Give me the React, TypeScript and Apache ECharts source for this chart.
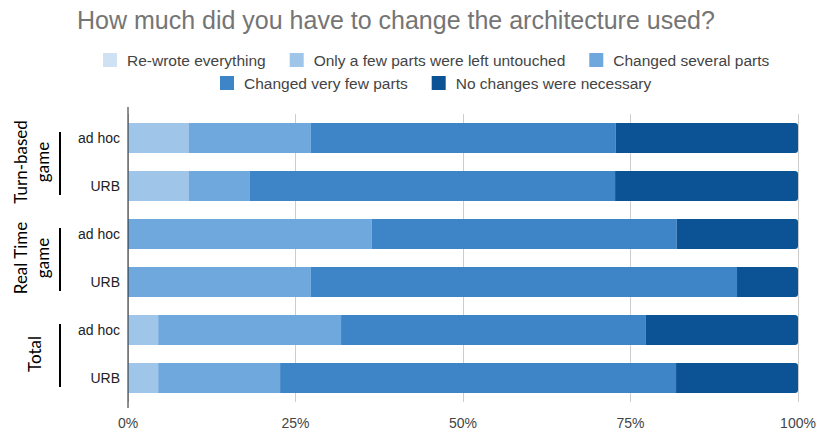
import React, { useEffect, useRef } from "react";
import * as echarts from "echarts";

const categories = ["ad hoc", "URB", "ad hoc", "URB", "ad hoc", "URB"];
const groups = [
  { label: ["Turn-based", "game"], from: 0, to: 1 },
  { label: ["Real Time", "game"], from: 2, to: 3 },
  { label: ["Total"], from: 4, to: 5 },
];
const seriesNames = [
  "Re-wrote everything",
  "Only a few parts were left untouched",
  "Changed several parts",
  "Changed very few parts",
  "No changes were necessary",
];
const colors = ["#cfe2f3", "#9fc5e8", "#6fa8dc", "#3d85c6", "#0b5394"];
const rewrote = [0, 0, 0, 0, 0, 0];
const fewLeft = [9.1, 9.1, 0, 0, 4.5, 4.5];
const several = [18.2, 9.1, 36.4, 27.3, 27.3, 18.2];
const veryFew = [45.5, 54.5, 45.5, 63.6, 45.5, 59.1];
const noChanges = [27.3, 27.3, 18.2, 9.1, 22.7, 18.2];
const values = [rewrote, fewLeft, several, veryFew, noChanges];
const xTicks = [0, 25, 50, 75, 100];

const FONT = "Liberation Sans, Arial, sans-serif";

export default function App() {
  const ref = useRef<HTMLDivElement>(null);
  useEffect(() => {
    document.body.style.margin = "0";
    const chart = echarts.init(ref.current!, null, { renderer: "svg" });
    const legendCommon = {
      itemWidth: 14,
      itemHeight: 14,
      itemGap: 24,
      icon: "rect",
      textStyle: {
        fontFamily: FONT,
        fontSize: 15.5,
        color: "#444444",
        padding: [0, 0, 0, 5],
      },
    };
    const option: any = {
      animation: false,
      backgroundColor: "#ffffff",
      title: {
        text: "How much did you have to change the architecture used?",
        left: 72,
        top: 2,
        textStyle: {
          fontFamily: FONT,
          fontSize: 25,
          fontWeight: "normal",
          color: "#757575",
        },
      },
      legend: [
        { ...legendCommon, top: 47, left: 98, data: seriesNames.slice(0, 3) },
        { ...legendCommon, top: 70, left: 215, data: seriesNames.slice(3) },
      ],
      grid: { left: 128, right: 21, top: 114, bottom: 34 },
      xAxis: {
        type: "value",
        min: 0,
        max: 100,
        interval: 25,
        axisLine: { show: false },
        axisTick: { show: false },
        splitLine: { lineStyle: { color: "#cccccc" } },
        axisLabel: {
          formatter: (v: number) => (xTicks.includes(v) ? v + "%" : ""),
          fontFamily: FONT,
          fontSize: 14,
          color: "#444444",
          margin: 14,
        },
      },
      yAxis: {
        type: "category",
        data: categories,
        inverse: true,
        axisLine: { show: false },
        axisTick: { show: false },
        axisLabel: {
          fontFamily: FONT,
          fontSize: 14,
          color: "#222222",
          margin: 8,
        },
      },
      series: seriesNames.map((name, i) => ({
        name,
        type: "bar",
        stack: "total",
        barCategoryGap: "37%",
        data: values[i],
        itemStyle: {
          color: colors[i],
          borderRadius: i === 4 ? [0, 3, 3, 0] : 0,
        },
      })),
    };
    chart.setOption(option);

    const graphics: any[] = [];
    const x0 = chart.convertToPixel({ xAxisIndex: 0 }, 0) as number;
    const yFirst = chart.convertToPixel({ yAxisIndex: 0 }, 0) as number;
    const yLast = chart.convertToPixel({ yAxisIndex: 0 }, categories.length - 1) as number;
    graphics.push({
      type: "line",
      z: 100,
      shape: { x1: x0, y1: yFirst - 31, x2: x0, y2: yLast + 30 },
      style: { stroke: "#222222", lineWidth: 1 },
    });
    groups.forEach((g) => {
      const y1 = chart.convertToPixel({ yAxisIndex: 0 }, g.from) as number;
      const y2 = chart.convertToPixel({ yAxisIndex: 0 }, g.to) as number;
      graphics.push({
        type: "line",
        shape: { x1: 60, y1: y1 - 6, x2: 60, y2: y2 + 9 },
        style: { stroke: "#000000", lineWidth: 2 },
      });
      const cy = (y1 + y2) / 2;
      const n = g.label.length;
      g.label.forEach((t, k) => {
        const cx = n === 1 ? 34 : 20 + k * 22;
        graphics.push({
          type: "text",
          x: cx,
          y: cy,
          rotation: Math.PI / 2,
          style: {
            text: t,
            fontFamily: "Lato, Noto Sans, sans-serif",
            fontSize: 17,
            fill: "#000000",
            align: "center",
            verticalAlign: "middle",
          },
        });
      });
    });
    chart.setOption({ graphic: graphics });

    return () => chart.dispose();
  }, []);
  return <div ref={ref} style={{ width: 819, height: 436 }} />;
}
